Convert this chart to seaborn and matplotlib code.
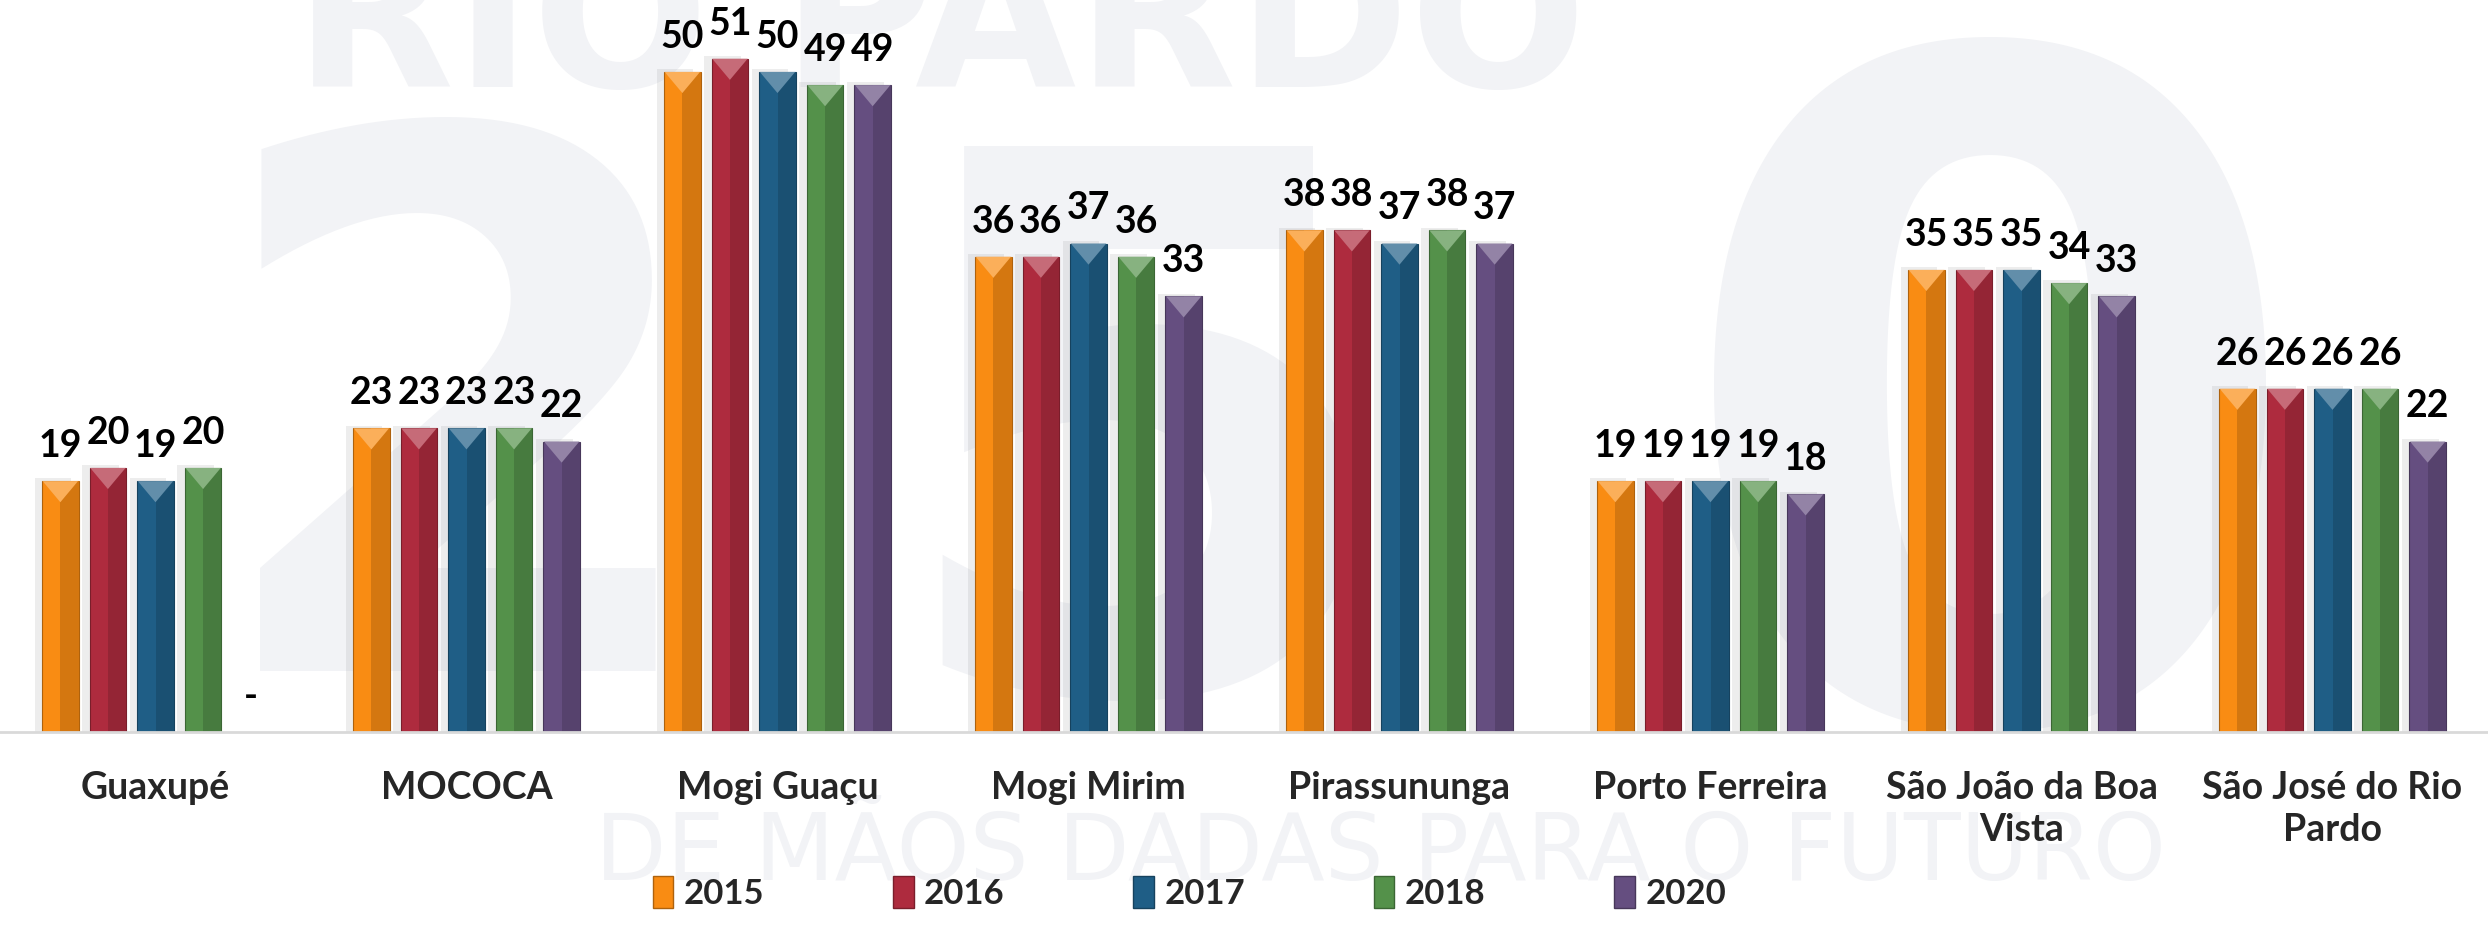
import matplotlib.pyplot as plt
import matplotlib.colors as mcolors
import seaborn as sns
import numpy as np
import pandas as pd
from matplotlib.patches import Rectangle, Polygon, Patch

municipios = ['Guaxupé', 'MOCOCA', 'Mogi Guaçu', 'Mogi Mirim', 'Pirassununga',
              'Porto Ferreira', 'São João da Boa\nVista', 'São José do Rio\nPardo']
anos = ['2015', '2016', '2017', '2018', '2020']
v2015 = [19, 23, 50, 36, 38, 19, 35, 26]
v2016 = [20, 23, 51, 36, 38, 19, 35, 26]
v2017 = [19, 23, 50, 37, 37, 19, 35, 26]
v2018 = [20, 23, 49, 36, 38, 19, 34, 26]
v2020 = [0, 22, 49, 33, 37, 18, 33, 22]
cores = ['#F98C13', '#AE2B3E', '#1F5E86', '#54914A', '#654E80']

df = pd.DataFrame({
    'municipio': municipios * len(anos),
    'ano': np.repeat(anos, len(municipios)),
    'valor': v2015 + v2016 + v2017 + v2018 + v2020,
})


def tom(cor, f):
    rgb = np.array(mcolors.to_rgb(cor))
    if f < 1:
        return tuple(rgb * f)
    return tuple(rgb + (1 - rgb) * (f - 1))


sns.set_style('white')
plt.rcParams['font.family'] = ['Lato', 'DejaVu Sans']

fig = plt.figure(figsize=(24.88, 9.3), dpi=100)
fig.patch.set_facecolor('white')
ax = fig.add_axes([0, 0.213, 1, 0.787])
ax.set_facecolor('none')

# marca d'agua ao fundo
renderer = fig.canvas.get_renderer()


def marca(txt, cx, cy, largura, va='baseline', peso='bold', fam=None):
    t = fig.text(cx, cy, txt, ha='center', va=va, fontsize=100, color='#f2f3f6',
                 fontweight=peso, zorder=-5, family=fam or ['DejaVu Sans'])
    w = t.get_window_extent(renderer).width
    t.set_fontsize(100 * largura / w)
    return t


marca('RIO PARDO', 0.378, 0.906, 1293)
marca('2', 0.185, 0.50, 520, va='center')
marca('5', 0.46, 0.48, 520, va='center')
marca('0', 0.80, 0.50, 640, va='center')
marca('DE MÃOS DADAS PARA O FUTURO', 0.555, 0.054, 1571, peso='normal',
      fam=['Liberation Sans Narrow', 'DejaVu Sans'])

sns.barplot(data=df, x='municipio', y='valor', hue='ano', hue_order=anos,
            palette=cores, saturation=1, width=0.765, gap=0.23,
            legend=False, ax=ax)

for cont, cor in zip(ax.containers, cores):
    for p in cont.patches:
        h = p.get_height()
        if not np.isfinite(h) or h == 0:
            continue
        x, w = p.get_x(), p.get_width()
        z = p.get_zorder()
        p.set_edgecolor(tom(cor, 0.7))
        p.set_linewidth(0.8)
        ax.add_patch(Rectangle((x - w * 0.2, 0), w, h + 0.2, facecolor='#8c8c8c',
                               alpha=0.15, lw=0, zorder=z - 0.5))
        ax.add_patch(Rectangle((x + w / 2, 0), w / 2, h, facecolor=tom(cor, 0.85),
                               lw=0, zorder=z + 0.1))
        ax.add_patch(Polygon([[x + 0.002, h], [x + w - 0.002, h], [x + w / 2, h - 1.6]],
                             closed=True, facecolor=tom(cor, 1.3), lw=0, zorder=z + 0.2))
    rotulos = [f'{v:.0f}' if v else '-' for v in cont.datavalues]
    ax.bar_label(cont, labels=rotulos, padding=13, fontsize=27, fontweight='bold',
                 color='black')

ax.set_ylim(0, 55.45)
ax.set_xlim(-0.5, 7.5)
ax.set_xlabel('')
ax.set_ylabel('')
ax.set_yticks([])
for s in ['top', 'left', 'right']:
    ax.spines[s].set_visible(False)
ax.spines['bottom'].set_color('#d9d9d9')
ax.spines['bottom'].set_linewidth(2)
ax.tick_params(axis='x', length=0, pad=28)
for lbl in ax.get_xticklabels():
    lbl.set_fontsize(27)
    lbl.set_fontweight('bold')
    lbl.set_linespacing(1.3)
    lbl.set_verticalalignment('top')

alcas = [Patch(facecolor=c, edgecolor=tom(c, 0.7)) for c in cores]
fig.legend(alcas, anos, loc='lower center', bbox_to_anchor=(0.478, -0.012), ncol=5,
           frameon=False, prop={'size': 25, 'weight': 'bold'}, handlelength=0.6,
           handleheight=1.0, handletextpad=0.3, columnspacing=3.7)

fig.savefig('out.png', dpi=100, facecolor='white')
